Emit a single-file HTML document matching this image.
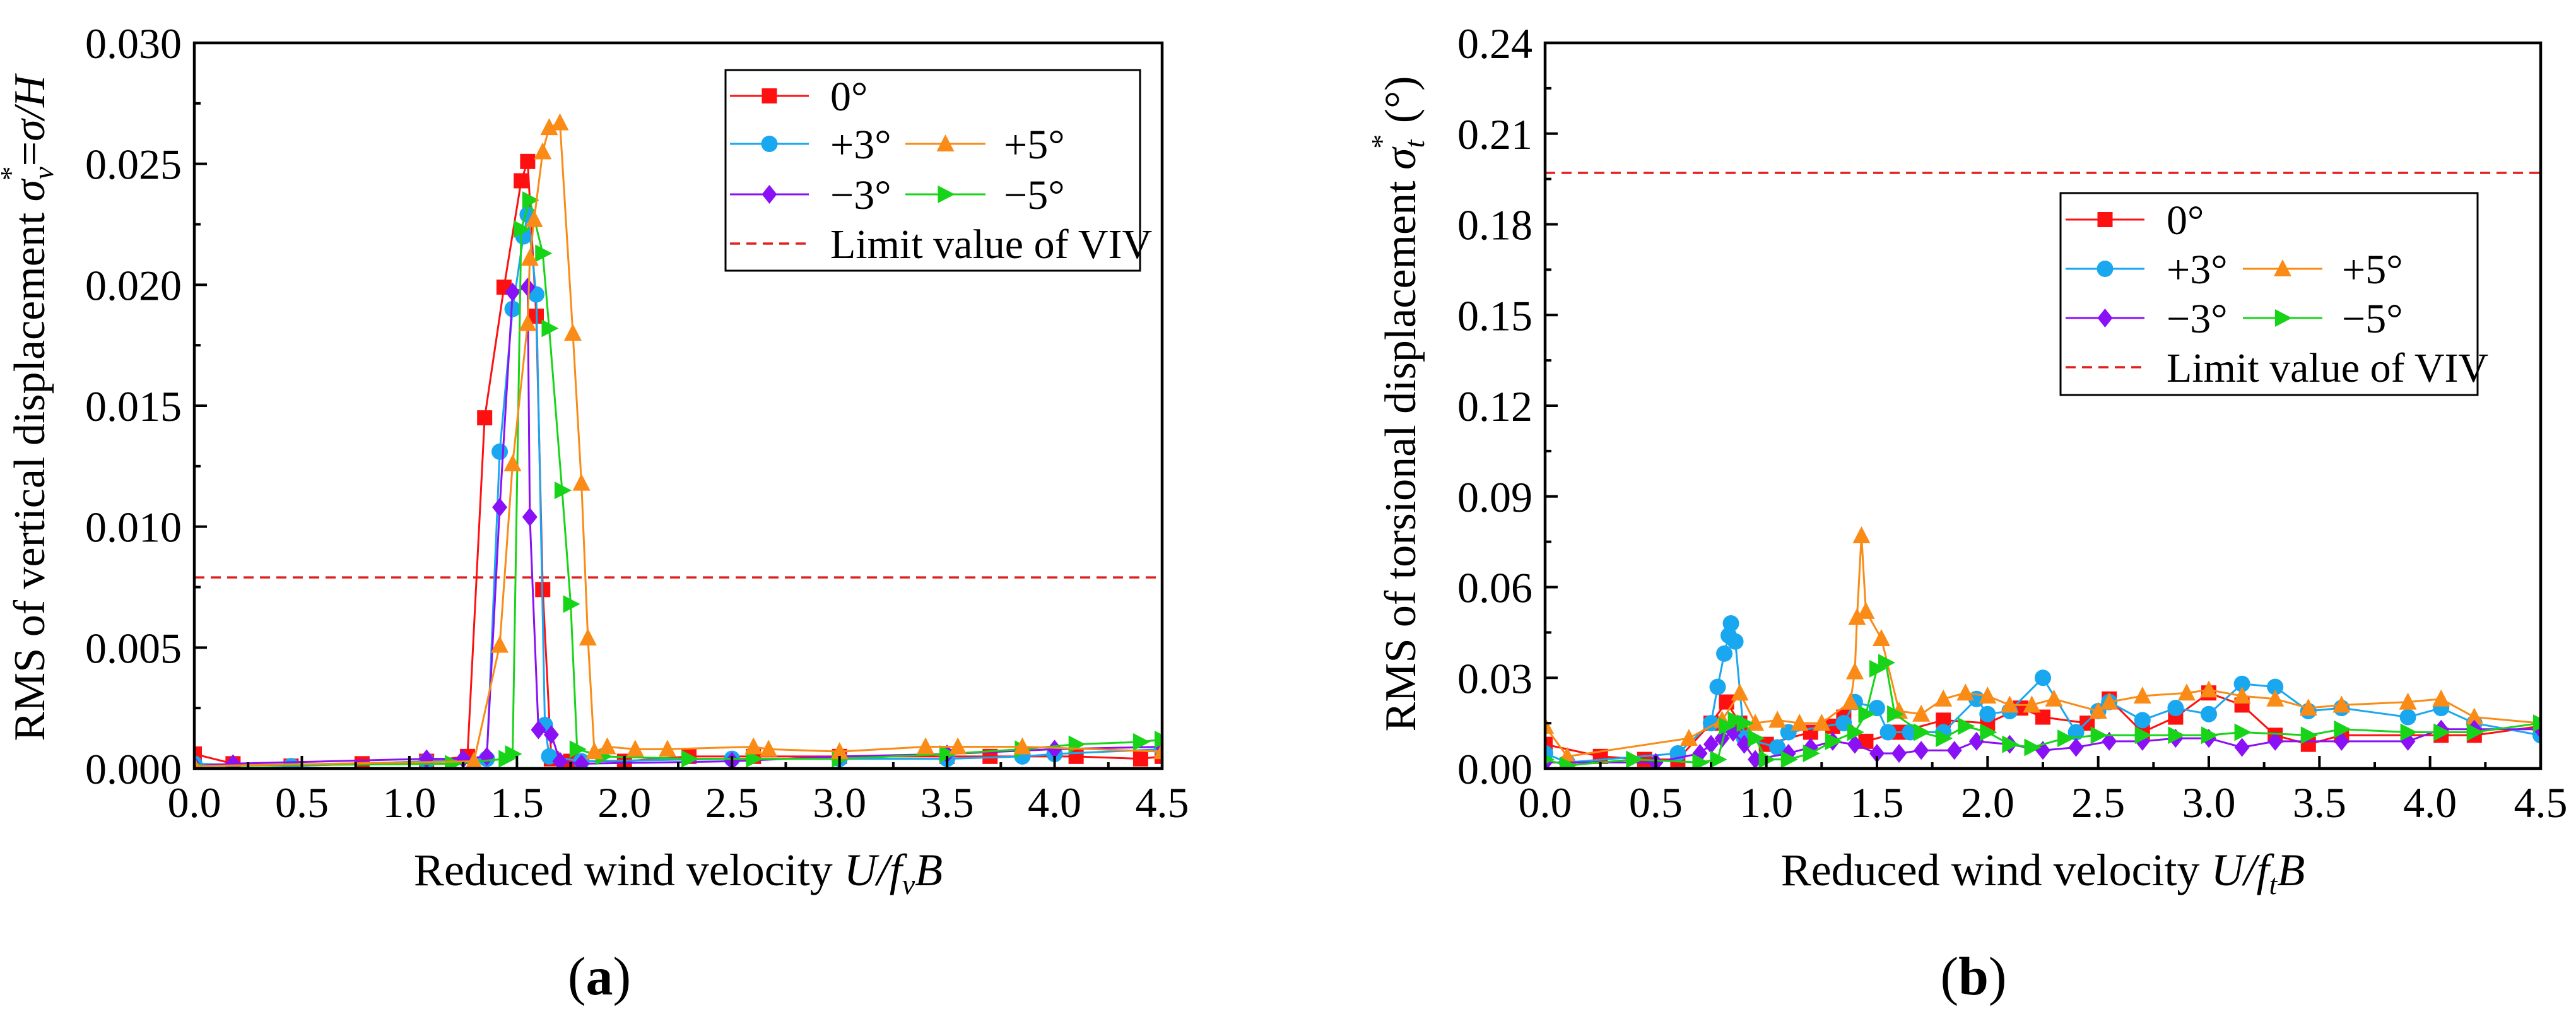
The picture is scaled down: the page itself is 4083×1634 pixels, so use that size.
<!DOCTYPE html>
<html><head><meta charset="utf-8"><style>
html,body{margin:0;padding:0;background:#fff;}
svg, svg text{font-family:"Liberation Serif","Times New Roman",serif;}
</style></head><body>
<svg id="fig" width="4083" height="1629" viewBox="0 0 4083 1629" xmlns="http://www.w3.org/2000/svg" font-family="Liberation Serif, serif">
<g id="pa"></g>
<g id="pb"></g>
</svg>
<script>
// ---------- Panel (a) data ----------
const aX0 = [0,0.18,0.45,0.78,1.08,1.27,1.35,1.44,1.52,1.55,1.59,1.62,1.66,1.75,2.0,2.3,2.6,3.0,3.5,3.7,4.1,4.4,4.5];
const aY0 = [0.0006,0.0002,0.0001,0.0002,0.0003,0.0005,0.0145,0.0199,0.0243,0.0251,0.0187,0.0074,0.0004,0.0003,0.0003,0.0005,0.0005,0.0005,0.0005,0.0005,0.0005,0.0004,0.0005];
const aXp3 = [0,0.45,1.08,1.36,1.42,1.48,1.53,1.55,1.59,1.63,1.65,1.8,2.5,3.0,3.5,3.85,4.0,4.5];
const aYp3 = [0.0002,0.0001,0.0003,0.0004,0.0131,0.019,0.022,0.0229,0.0196,0.0018,0.0005,0.0003,0.0004,0.0004,0.0004,0.0005,0.0006,0.0008];
const aXp5 = [0,1.3,1.42,1.48,1.55,1.56,1.58,1.62,1.65,1.70,1.76,1.80,1.83,1.86,1.92,2.05,2.2,2.6,2.67,3.0,3.4,3.55,3.85,4.5];
const aYp5 = [0.0001,0.0003,0.0051,0.0126,0.0184,0.0211,0.0227,0.0255,0.0265,0.0267,0.018,0.0118,0.0054,0.0007,0.0009,0.0008,0.0008,0.0009,0.0008,0.0007,0.0009,0.0009,0.0009,0.0007];
const aXm3 = [0,0.18,1.08,1.25,1.36,1.42,1.48,1.55,1.56,1.60,1.66,1.7,1.8,2.5,3.0,3.5,4.0,4.5];
const aYm3 = [0.0001,0.0002,0.0004,0.0004,0.0005,0.0108,0.0197,0.0199,0.0104,0.0016,0.0014,0.0003,0.0002,0.0003,0.0005,0.0006,0.0008,0.0009];
const aXm5 = [0,1.2,1.45,1.48,1.52,1.56,1.62,1.65,1.71,1.75,1.78,1.9,2.3,2.6,3.0,3.5,3.85,4.1,4.4,4.5];
const aYm5 = [0.0001,0.0002,0.0004,0.0006,0.0223,0.0235,0.0213,0.0182,0.0115,0.0068,0.0008,0.0005,0.0004,0.0004,0.0004,0.0006,0.0008,0.0010,0.0011,0.0012];
const aLimit = 0.0079;
const aYTicks = ["0.000","0.005","0.010","0.015","0.020","0.025","0.030"];
const xTicks = ["0.0","0.5","1.0","1.5","2.0","2.5","3.0","3.5","4.0","4.5"];
// ---------- Panel (b) data ----------
const bX0 = [0,0.25,0.45,0.6,0.75,0.82,0.88,1.0,1.2,1.3,1.35,1.45,1.6,1.8,2.0,2.15,2.25,2.45,2.55,2.7,2.85,3.0,3.15,3.3,3.45,3.6,4.05,4.2,4.5];
const bY0 = [0.008,0.004,0.003,0.003,0.015,0.022,0.015,0.008,0.012,0.014,0.017,0.009,0.012,0.016,0.015,0.02,0.017,0.015,0.023,0.012,0.017,0.025,0.021,0.011,0.008,0.011,0.011,0.011,0.014];
const bXp3 = [0,0.1,0.6,0.75,0.78,0.81,0.83,0.84,0.86,0.9,1.05,1.1,1.35,1.4,1.5,1.55,1.65,1.8,1.95,2.0,2.1,2.25,2.4,2.5,2.55,2.7,2.85,3.0,3.15,3.3,3.45,3.6,3.9,4.05,4.2,4.5];
const bYp3 = [0.005,0.002,0.005,0.015,0.027,0.038,0.044,0.048,0.042,0.01,0.007,0.012,0.015,0.022,0.02,0.012,0.012,0.012,0.023,0.018,0.019,0.03,0.012,0.019,0.022,0.016,0.02,0.018,0.028,0.027,0.019,0.02,0.017,0.02,0.015,0.011];
const bXp5 = [0,0.1,0.65,0.8,0.88,0.95,1.05,1.15,1.25,1.38,1.4,1.41,1.43,1.45,1.52,1.6,1.7,1.8,1.9,2.0,2.1,2.2,2.3,2.5,2.55,2.7,2.9,3.0,3.15,3.3,3.45,3.6,3.9,4.05,4.2,4.5];
const bYp5 = [0.014,0.004,0.01,0.016,0.025,0.015,0.016,0.015,0.015,0.022,0.032,0.05,0.077,0.052,0.043,0.019,0.018,0.023,0.025,0.024,0.021,0.021,0.023,0.019,0.022,0.024,0.025,0.026,0.024,0.023,0.02,0.021,0.022,0.023,0.017,0.015];
const bXm3 = [0,0.5,0.7,0.75,0.8,0.85,0.9,0.95,1.1,1.2,1.3,1.4,1.5,1.6,1.7,1.85,1.95,2.1,2.25,2.4,2.55,2.7,2.85,3.0,3.15,3.3,3.6,3.9,4.05,4.2,4.5];
const bYm3 = [0.002,0.002,0.005,0.008,0.01,0.012,0.008,0.003,0.005,0.007,0.009,0.008,0.005,0.005,0.006,0.006,0.009,0.008,0.006,0.007,0.009,0.009,0.01,0.01,0.007,0.009,0.009,0.009,0.013,0.013,0.013];
const bXm5 = [0,0.1,0.4,0.7,0.78,0.82,0.86,0.9,0.95,1.0,1.1,1.2,1.3,1.4,1.45,1.5,1.54,1.58,1.7,1.8,1.9,2.0,2.1,2.2,2.35,2.5,2.7,2.85,3.0,3.15,3.45,3.6,3.9,4.05,4.2,4.5];
const bYm5 = [0.003,0.001,0.003,0.002,0.003,0.014,0.016,0.015,0.01,0.003,0.003,0.005,0.009,0.012,0.018,0.033,0.035,0.018,0.012,0.01,0.014,0.012,0.008,0.007,0.01,0.011,0.011,0.011,0.011,0.012,0.011,0.013,0.012,0.012,0.012,0.015];
const bLimit = 0.197;
const bYTicks = ["0.00","0.03","0.06","0.09","0.12","0.15","0.18","0.21","0.24"];

const NS="http://www.w3.org/2000/svg";
const FF="Liberation Serif, Times New Roman, serif";
const C={r:"#ff1010",b:"#19a7f0",o:"#f98b16",p:"#8a10f5",g:"#18d418"};
function mk(tag,attrs,parent){const e=document.createElementNS(NS,tag);for(const k in attrs)e.setAttribute(k,attrs[k]);if(tag==="text")e.setAttribute("font-family",FF);parent.appendChild(e);return e;}
function marker(g,shape,x,y,col){
  const s=12;let e;
  if(shape==="sq")e=mk("rect",{x:x-s,y:y-s,width:2*s,height:2*s,fill:col},g);
  else if(shape==="ci")e=mk("circle",{cx:x,cy:y,r:s+1,fill:col},g);
  else if(shape==="tu")e=mk("polygon",{points:`${x},${y-s-3} ${x+s+2},${y+s} ${x-s-2},${y+s}`,fill:col},g);
  else if(shape==="di")e=mk("polygon",{points:`${x},${y-s-3} ${x+s},${y} ${x},${y+s+3} ${x-s},${y}`,fill:col},g);
  else e=mk("polygon",{points:`${x+s+3},${y} ${x-s},${y-s-2} ${x-s},${y+s+2}`,fill:col},g);
  return e;
}
function panel(g,L,R,T,B,ymax,yTicks,series,limit,legend,ylab,xlab,tag,tagX){
  const sx=v=>L+(v/4.5)*(R-L), sy=v=>B-(v/ymax)*(B-T);
  const clip=mk("clipPath",{id:"c"+tag},g);mk("rect",{x:L,y:T,width:R-L,height:B-T},clip);
  const lim=mk("line",{x1:L,x2:R,y1:sy(limit),y2:sy(limit),stroke:"#e02020","stroke-width":3.5,"stroke-dasharray":"16,10"},g);
  
  
  series.forEach(s=>{
    const sg=mk("g",{"clip-path":`url(#c${tag})`},g);
    
    
    mk("polyline",{points:s.x.map((v,i)=>sx(v)+","+sy(s.y[i])).join(" "),fill:"none",stroke:s.col,"stroke-width":3},sg);
    s.x.forEach((v,i)=>{const m=marker(sg,s.shape,sx(v),sy(s.y[i]),s.col);
      
      });
  });
  const box=mk("rect",{x:L,y:T,width:R-L,height:B-T,fill:"none",stroke:"#000","stroke-width":4.5},g);
  
  
  const n=yTicks.length-1;
  for(let i=0;i<=2*n;i++){const y=B-i*(B-T)/(2*n);const len=i%2?10:20;
    mk("line",{x1:L,x2:L+len,y1:y,y2:y,stroke:"#000","stroke-width":4},g);}
  yTicks.forEach((t,i)=>{const y=B-i*(B-T)/n;
    const tx=mk("text",{x:L-20,y:y+24,"text-anchor":"end","font-size":68},g);tx.textContent=t;
    
    });
  for(let i=0;i<=18;i++){const x=L+i*(R-L)/18;const len=i%2?10:20;
    mk("line",{x1:x,x2:x,y1:B,y2:B-len,stroke:"#000","stroke-width":4},g);}
  xTicks.forEach((t,i)=>{const x=L+i*(R-L)/9;
    const tx=mk("text",{x:x,y:B+77,"text-anchor":"middle","font-size":68},g);tx.textContent=t;
    
    });
  const lg=mk("g",{},g);
  
  
  mk("rect",{x:legend.x,y:legend.y,width:legend.w,height:legend.h,fill:"#fff",stroke:"#000","stroke-width":3},lg);
  legend.items.forEach(it=>{
    const e=mk("g",{},lg);
    
    
    if(it.dash){mk("line",{x1:it.x1,x2:it.x2,y1:it.y,y2:it.y,stroke:"#e02020","stroke-width":3.5,"stroke-dasharray":"16,10"},e);}
    else{mk("line",{x1:it.x1,x2:it.x2,y1:it.y,y2:it.y,stroke:it.col,"stroke-width":3},e);marker(e,it.shape,(it.x1+it.x2)/2,it.y,it.col);}
    const t=mk("text",{x:it.tx,y:it.y+23,"font-size":66},e);t.textContent=it.label;
  });
  const yl=mk("text",{x:0,y:0,"font-size":70,"text-anchor":"middle",transform:`translate(${ylab.x},${ylab.y}) rotate(-90)`},g);
  yl.innerHTML=ylab.html;
  
  
  const xl=mk("text",{x:(L+R)/2,y:B+185,"font-size":72,"text-anchor":"middle"},g);
  xl.innerHTML=xlab;
  
  
  const pt=mk("text",{x:tagX,y:1576,"font-size":86,"text-anchor":"middle"},g);
  pt.innerHTML=`(<tspan font-weight="bold">${tag}</tspan>)`;
  
  
}
function legendItems(x0,rows,c2){
  return [
    {x1:x0[0],x2:x0[1],y:rows[0],col:C.r,shape:"sq",tx:x0[2],label:"0°"},
    {x1:x0[0],x2:x0[1],y:rows[1],col:C.b,shape:"ci",tx:x0[2],label:"+3°"},
    {x1:c2[0],x2:c2[1],y:rows[1],col:C.o,shape:"tu",tx:c2[2],label:"+5°"},
    {x1:x0[0],x2:x0[1],y:rows[2],col:C.p,shape:"di",tx:x0[2],label:"−3°"},
    {x1:c2[0],x2:c2[1],y:rows[2],col:C.g,shape:"tr",tx:c2[2],label:"−5°"},
    {x1:x0[0],x2:x0[1],y:rows[3],dash:true,tx:x0[2],label:"Limit value of VIV"}];
}
const pa=document.getElementById("pa"), pb=document.getElementById("pb");
panel(pa,308,1842,68,1218,0.030,aYTicks,[
  {name:"0deg",x:aX0,y:aY0,col:C.r,shape:"sq"},
  {name:"plus3deg",x:aXp3,y:aYp3,col:C.b,shape:"ci"},
  {name:"minus3deg",x:aXm3,y:aYm3,col:C.p,shape:"di"},
  {name:"minus5deg",x:aXm5,y:aYm5,col:C.g,shape:"tr"},
  {name:"plus5deg",x:aXp5,y:aYp5,col:C.o,shape:"tu"}],aLimit,
  {x:1150,y:111,w:657,h:318,items:legendItems([1157,1282,1316],[152,228,308,386],[1435,1562,1591])},
  {x:70,y:647,html:'RMS of vertical displacement <tspan font-style="italic">σ</tspan><tspan font-style="italic" font-size="46" dy="14">v</tspan><tspan font-size="46" dx="-22" dy="-52">*</tspan><tspan dy="38">=</tspan><tspan font-style="italic">σ/H</tspan>'},
  'Reduced wind velocity <tspan font-style="italic">U/f</tspan><tspan font-style="italic" font-size="46" dy="14">v</tspan><tspan font-style="italic" dy="-14">B</tspan>',"a",950);
panel(pb,2449,4027,68,1218,0.24,bYTicks,[
  {name:"0deg",x:bX0,y:bY0,col:C.r,shape:"sq"},
  {name:"plus3deg",x:bXp3,y:bYp3,col:C.b,shape:"ci"},
  {name:"plus5deg",x:bXp5,y:bYp5,col:C.o,shape:"tu"},
  {name:"minus3deg",x:bXm3,y:bYm3,col:C.p,shape:"di"},
  {name:"minus5deg",x:bXm5,y:bYm5,col:C.g,shape:"tr"}],bLimit,
  {x:3266,y:306,w:661,h:320,items:legendItems([3274,3399,3434],[348,426,504,582],[3555,3681,3712])},
  {x:2243,y:640,html:'RMS of torsional displacement <tspan font-style="italic">σ</tspan><tspan font-style="italic" font-size="46" dy="14">t</tspan><tspan font-size="46" dx="-14" dy="-52">*</tspan><tspan dy="38"> (°)</tspan>'},
  'Reduced wind velocity <tspan font-style="italic">U/f</tspan><tspan font-style="italic" font-size="46" dy="14">t</tspan><tspan font-style="italic" dy="-14">B</tspan>',"b",3128);
</script>
</body></html>
